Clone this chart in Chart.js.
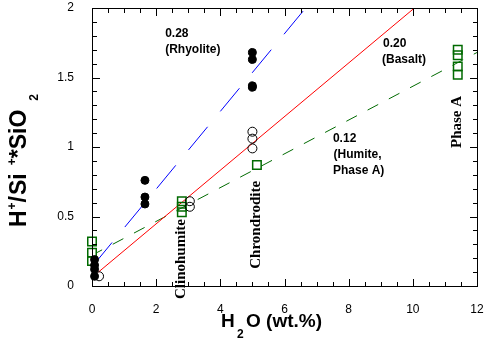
<!DOCTYPE html>
<html>
<head>
<meta charset="utf-8">
<script src="https://cdn.jsdelivr.net/npm/chart.js@4.4.0/dist/chart.umd.min.js"></script>
<style>
  body { margin: 0; background: #fff; }
  canvas { display: block; }
</style>
</head>
<body>
<canvas id="chart" width="494" height="362"></canvas>
<script>
// tick labels
const xTicks = [0, 2, 4, 6, 8, 10, 12];
const yTicks = [0, 0.5, 1, 1.5, 2];
// minor tick marks
const xMinor = [0.5, 1, 1.5, 2.5, 3, 3.5, 4.5, 5, 5.5, 6.5, 7, 7.5, 8.5, 9, 9.5, 10.5, 11, 11.5];
const yMinor = [0.1, 0.2, 0.3, 0.4, 0.6, 0.7, 0.8, 0.9, 1.1, 1.2, 1.3, 1.4, 1.6, 1.7, 1.8, 1.9];

// filled circles
const filledX = [0.08, 0.08, 0.08, 0.08, 1.65, 1.65, 1.65, 5.0, 5.0, 5.0, 5.0];
const filledY = [0.19, 0.15, 0.12, 0.07, 0.76, 0.64, 0.59, 1.68, 1.63, 1.44, 1.43];
// open circles
const openX = [0.22, 3.05, 3.05, 5.0, 5.0, 5.0];
const openY = [0.07, 0.61, 0.57, 1.11, 1.06, 0.99];
// squares (humite / phase A)
const squareX = [0, 0, 0, 2.8, 2.8, 2.8, 5.14, 11.4, 11.4, 11.4, 11.4];
const squareY = [0.32, 0.24, 0.18, 0.61, 0.57, 0.53, 0.87, 1.70, 1.66, 1.58, 1.52];

// trend lines, end points
const rhyoliteX = [0.15, 6.66];
const rhyoliteY = [0.18, 2.0];
const basaltX = [0.2, 10.05];
const basaltY = [0.1, 2.0];
const humiteX = [0.15, 12];
const humiteY = [0.24, 1.68];

const pts = (xs, ys) => xs.map((v, i) => ({ x: v, y: ys[i] }));

const SANS = '"Liberation Sans", Arial, sans-serif';
const SERIF = '"Liberation Serif", "Times New Roman", serif';
const GREEN = '#006a00';

// text labels, anchored in data units
const notes = [
  { text: '0.28', x: 2.28, y: 1.79 },
  { text: '(Rhyolite)', x: 2.28, y: 1.675 },
  { text: '0.20', x: 9.07, y: 1.72 },
  { text: '(Basalt)', x: 9.04, y: 1.605 },
  { text: '0.12', x: 7.51, y: 1.036 },
  { text: '(Humite,', x: 7.53, y: 0.92 },
  { text: 'Phase A)', x: 7.51, y: 0.805 }
];
const minerals = [
  { text: 'Clinohumite', x: 2.77, y: 0.194 },
  { text: 'Chrondrodite', x: 5.11, y: 0.44 },
  { text: 'Phase A', x: 11.38, y: 1.18 }
];

const decor = {
  id: 'decor',
  afterDraw(chart) {
    const ctx = chart.ctx;
    const a = chart.chartArea;
    const xs = chart.scales.x;
    const ys = chart.scales.y;
    ctx.save();
    ctx.fillStyle = '#000';
    const L = Math.round(a.left), R = Math.round(a.right);
    const T = Math.round(a.top), B = Math.round(a.bottom);
    // frame
    ctx.fillRect(L, T, R - L + 1, 1);
    ctx.fillRect(L, B, R - L + 1, 1);
    ctx.fillRect(L, T, 1, B - T + 1);
    ctx.fillRect(R, T, 1, B - T + 1);

    // inward ticks on all four sides
    const xMark = (v, len) => {
      const px = Math.round(xs.getPixelForValue(v));
      ctx.fillRect(px, B - len, 1, len);
      ctx.fillRect(px, T, 1, len + 1);
    };
    const yMark = (v, len) => {
      const py = Math.round(ys.getPixelForValue(v));
      ctx.fillRect(L, py, len + 1, 1);
      ctx.fillRect(R - len, py, len, 1);
    };
    xTicks.forEach(v => xMark(v, 7));
    xMinor.forEach(v => xMark(v, 4));
    yTicks.forEach(v => yMark(v, 7));
    yMinor.forEach(v => yMark(v, 4));

    ctx.textBaseline = 'alphabetic';
    ctx.textAlign = 'left';
    ctx.font = 'bold 12px ' + SANS;
    notes.forEach(n => ctx.fillText(n.text, xs.getPixelForValue(n.x), ys.getPixelForValue(n.y)));

    ctx.font = 'bold 15px ' + SERIF;
    ctx.textAlign = 'center';
    ctx.textBaseline = 'middle';
    minerals.forEach(m => {
      ctx.save();
      ctx.translate(xs.getPixelForValue(m.x), ys.getPixelForValue(m.y));
      ctx.rotate(-Math.PI / 2);
      ctx.fillText(m.text, 0, 0);
      ctx.restore();
    });

    // x title: H2O (wt.%)
    ctx.textAlign = 'left';
    ctx.textBaseline = 'alphabetic';
    ctx.font = 'bold 19px ' + SANS;
    ctx.fillText('H', 221, 327);
    ctx.font = 'bold 12px ' + SANS;
    ctx.fillText('2', 237, 338);
    ctx.font = 'bold 19px ' + SANS;
    ctx.fillText('O (wt.%)', 246, 327);

    // y title: H+/Si+*SiO2
    ctx.save();
    ctx.translate(26, 227);
    ctx.rotate(-Math.PI / 2);
    const big = 'bold 23px ' + SANS;
    const sm = 'bold 12px ' + SANS;
    const parts = [
      { t: 'H', f: big, dy: 0, gap: 0 },
      { t: '+', f: sm, dy: -10, gap: 1 },
      { t: '/', f: big, dy: 0, gap: 0 },
      { t: 'Si', f: big, dy: 0, gap: 1 },
      { t: '+', f: sm, dy: -10, gap: 8 },
      { t: '*SiO', f: big, dy: 0, gap: 0 },
      { t: '2', f: sm, dy: 12, gap: 9 }
    ];
    let u = 0;
    parts.forEach(p => {
      u += p.gap;
      ctx.font = p.f;
      ctx.fillText(p.t, u, p.dy);
      u += ctx.measureText(p.t).width;
    });
    ctx.restore();
    ctx.restore();
  }
};

new Chart(document.getElementById('chart'), {
  type: 'scatter',
  data: {
    datasets: [
      {
        data: pts(filledX, filledY),
        pointStyle: 'circle', pointRadius: 4, borderWidth: 1,
        backgroundColor: '#000', borderColor: '#000', clip: false
      },
      {
        data: pts(openX, openY),
        pointStyle: 'circle', pointRadius: 4.5, borderWidth: 1,
        backgroundColor: 'rgba(0,0,0,0)', borderColor: '#000', clip: false
      },
      {
        data: pts(squareX, squareY),
        pointStyle: 'rect', pointRadius: 6, borderWidth: 1.5,
        backgroundColor: 'rgba(0,0,0,0)', borderColor: GREEN, clip: false
      },
      {
        data: pts(rhyoliteX, rhyoliteY), showLine: true, pointRadius: 0,
        borderColor: '#0000ff', borderWidth: 1, borderDash: [30, 20], borderDashOffset: 6
      },
      {
        data: pts(basaltX, basaltY), showLine: true, pointRadius: 0,
        borderColor: '#ff0000', borderWidth: 1
      },
      {
        data: pts(humiteX, humiteY), showLine: true, pointRadius: 0,
        borderColor: GREEN, borderWidth: 1, borderDash: [12, 12], borderDashOffset: 6
      }
    ]
  },
  options: {
    responsive: false,
    animation: false,
    layout: { padding: { left: 0, right: 17, top: 8, bottom: 0 } },
    plugins: { legend: { display: false }, tooltip: { enabled: false } },
    scales: {
      x: {
        type: 'linear', min: 0, max: 12,
        afterBuildTicks: s => { s.ticks = xTicks.map(v => ({ value: v })); },
        afterFit: s => { s.height = 76; s.paddingLeft = 0; s.paddingRight = 0; },
        grid: { display: false, drawTicks: false },
        border: { display: false },
        ticks: { color: '#000', padding: 16, maxRotation: 0, callback: v => String(v), font: { family: SANS, size: 12 } }
      },
      y: {
        type: 'linear', min: 0, max: 2,
        afterBuildTicks: s => { s.ticks = yTicks.map(v => ({ value: v })); },
        afterFit: s => { s.width = 92; s.paddingTop = 0; s.paddingBottom = 0; },
        grid: { display: false, drawTicks: false },
        border: { display: false },
        ticks: { color: '#000', padding: 18, callback: v => String(v), font: { family: SANS, size: 12 } }
      }
    }
  },
  plugins: [decor]
});
</script>
</body>
</html>
